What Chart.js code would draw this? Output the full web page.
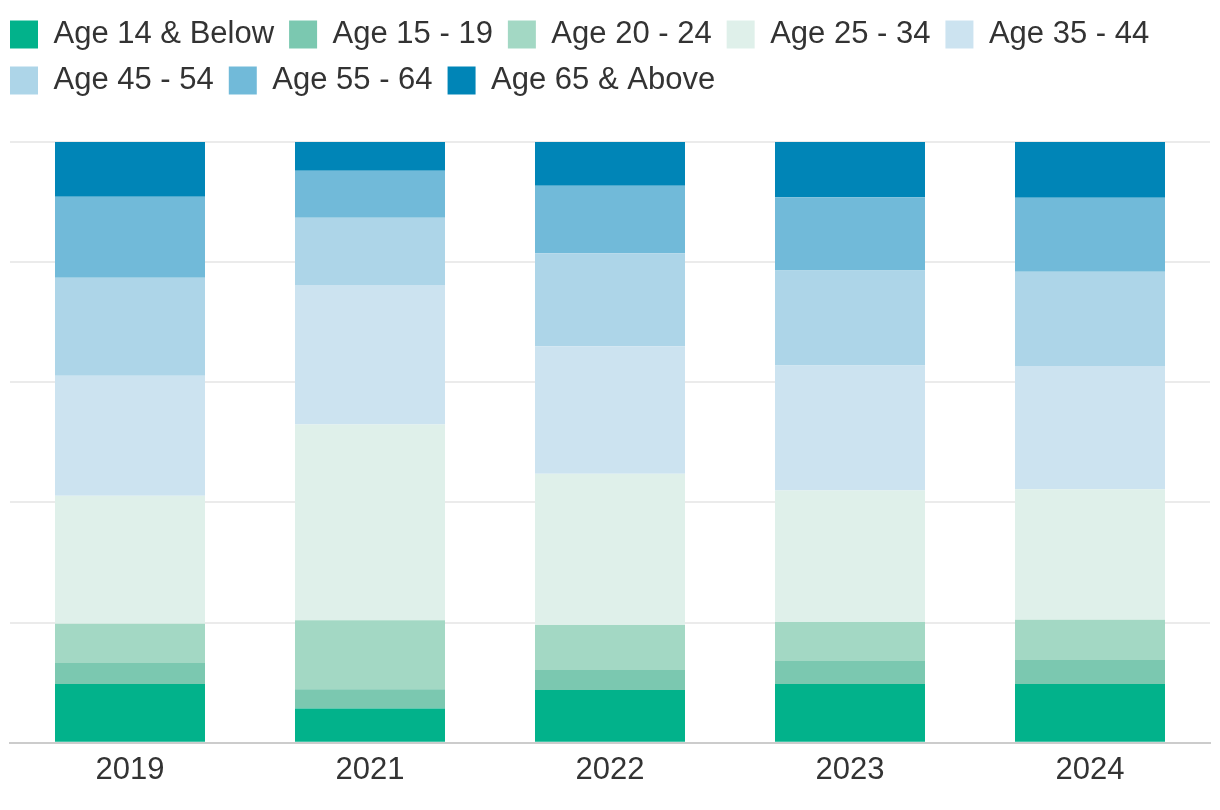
<!DOCTYPE html>
<html>
<head>
<meta charset="utf-8">
<script src="https://cdn.jsdelivr.net/npm/chart.js@4/dist/chart.umd.min.js"></script>
<style>
html,body{margin:0;padding:0;background:#ffffff;}
#wrap{width:1220px;height:810px;}
</style>
</head>
<body>
<div id="wrap"><canvas id="c" width="1220" height="810"></canvas></div>
<script>
const years = ['2019', '2021', '2022', '2023', '2024'];
const seriesNames = ['Age 14 & Below', 'Age 15 - 19', 'Age 20 - 24', 'Age 25 - 34', 'Age 35 - 44', 'Age 45 - 54', 'Age 55 - 64', 'Age 65 & Above'];
const age14Below = [9.8, 5.7, 8.8, 9.8, 9.8];
const age15to19  = [3.5, 3.2, 3.3, 3.8, 4.0];
const age20to24  = [6.5, 11.5, 7.5, 6.5, 6.7];
const age25to34  = [21.3, 32.6, 25.2, 21.9, 21.7];
const age35to44  = [20.0, 23.2, 21.2, 20.8, 20.5];
const age45to54  = [16.3, 11.2, 15.5, 15.8, 15.7];
const age55to64  = [13.5, 7.8, 11.2, 12.2, 12.3];
const age65Above = [9.1, 4.8, 7.3, 9.2, 9.3];
const yTicks = [0, 20, 40, 60, 80, 100];

const seriesValues = [age14Below, age15to19, age20to24, age25to34, age35to44, age45to54, age55to64, age65Above];
const seriesColors = ['#02b28b', '#7bc8b0', '#a3d8c4', '#dff0ea', '#cce3f0', '#add5e8', '#71bad9', '#0085b7'];

const datasets = seriesNames.map((name, i) => ({
  label: name,
  data: seriesValues[i],
  backgroundColor: seriesColors[i],
  borderWidth: 0,
  barPercentage: 0.625,
  categoryPercentage: 1.0
}));

const legendSpacer = {
  id: 'legendSpacer',
  beforeInit(chart) {
    const origFit = chart.legend.fit;
    chart.legend.fit = function () {
      origFit.bind(chart.legend)();
      this.height += 36;
    };
  }
};

new Chart(document.getElementById('c'), {
  type: 'bar',
  data: { labels: years, datasets: datasets },
  plugins: [legendSpacer],
  options: {
    responsive: false,
    animation: false,
    devicePixelRatio: 1,
    layout: { padding: { top: 4, left: -5, right: 10, bottom: 12 } },
    plugins: {
      legend: {
        position: 'top',
        align: 'start',
        labels: {
          boxWidth: 28,
          boxHeight: 28,
          padding: 15,
          color: '#333333',
          font: { family: '"Liberation Sans", Arial, sans-serif', size: 31 }
        }
      },
      tooltip: { enabled: false }
    },
    scales: {
      x: {
        stacked: true,
        grid: { display: false, drawTicks: false },
        border: { display: true, color: '#cccccc', width: 2 },
        ticks: {
          color: '#333333',
          padding: 9,
          font: { family: '"Liberation Sans", Arial, sans-serif', size: 31 }
        }
      },
      y: {
        stacked: true,
        min: yTicks[0],
        max: yTicks[yTicks.length - 1],
        afterBuildTicks: (scale) => { scale.ticks = yTicks.map(v => ({ value: v })); },
        afterFit: (scale) => { scale.width = 15; },
        grid: { color: '#ebebeb', lineWidth: 2, drawTicks: false },
        border: { display: false },
        ticks: { display: false, stepSize: 20 }
      }
    }
  }
});
</script>
</body>
</html>
